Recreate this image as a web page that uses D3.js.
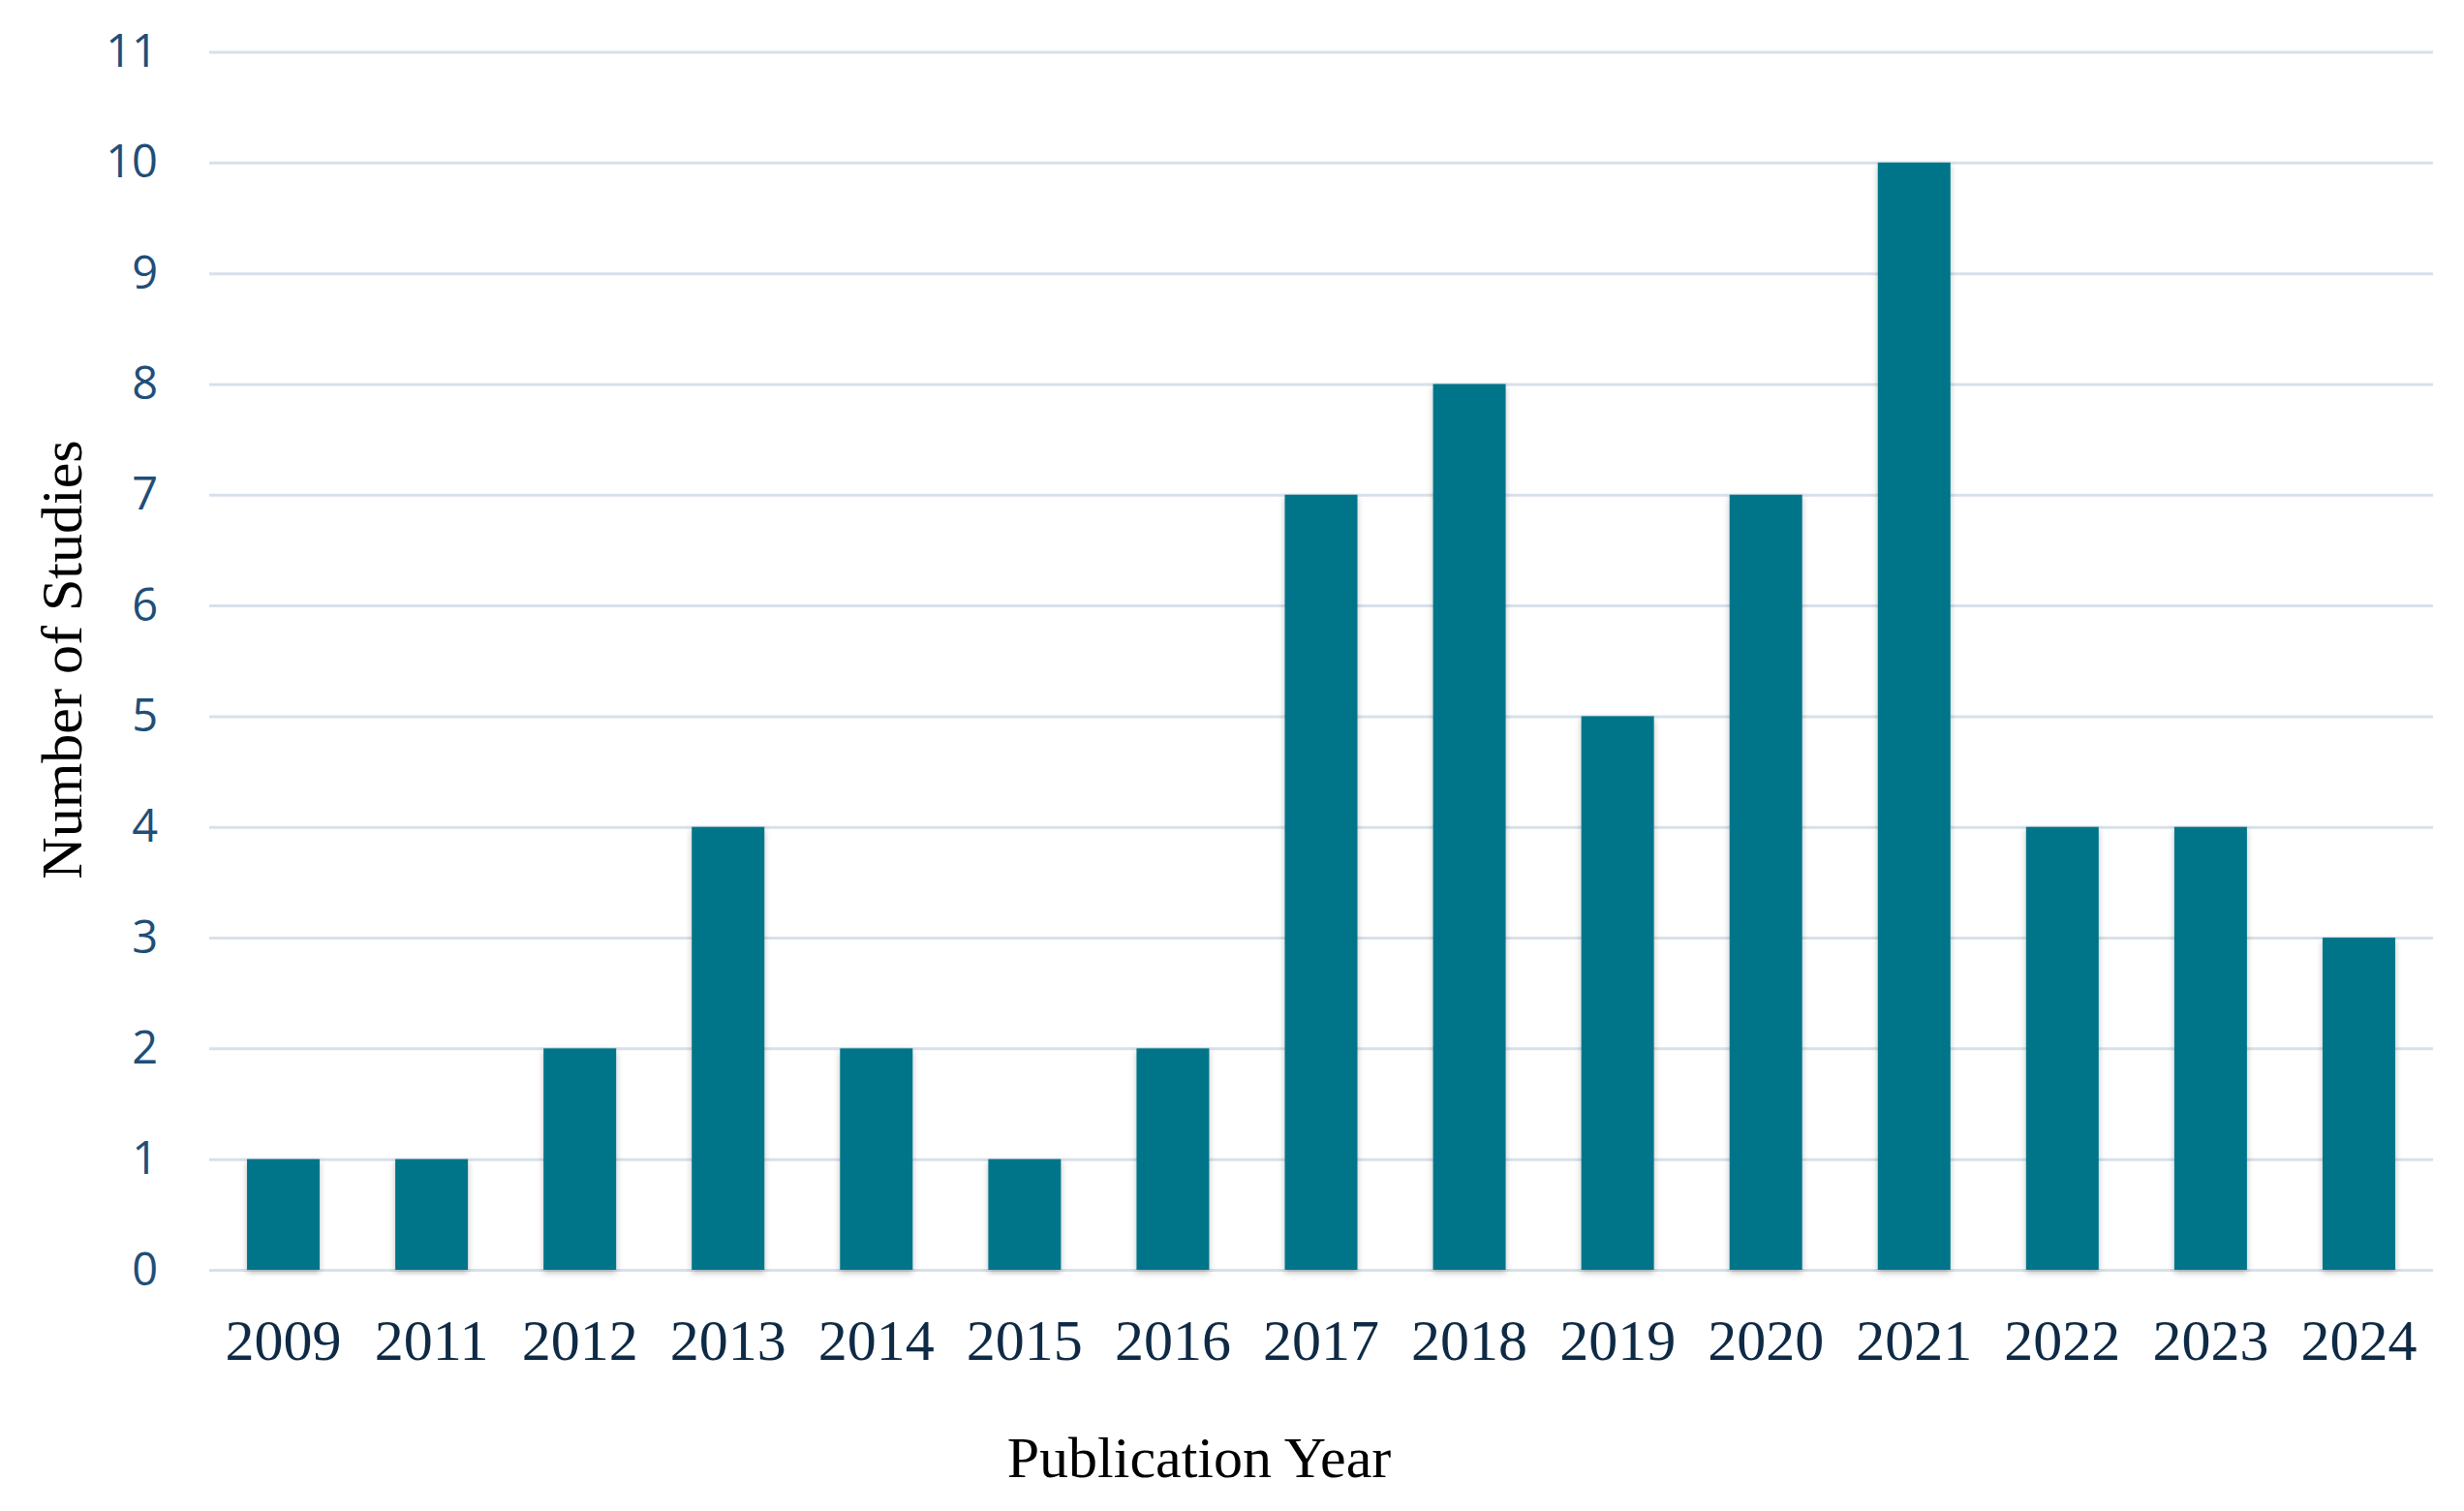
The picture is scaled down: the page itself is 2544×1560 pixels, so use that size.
<!DOCTYPE html>
<html>
<head>
<meta charset="utf-8">
<script src="https://cdn.jsdelivr.net/npm/d3@7"></script>
<style>
  body { margin: 0; background: #fff; }
</style>
</head>
<body>
<svg id="chart"></svg>
<script>
// data
const years = ["2009", "2011", "2012", "2013", "2014", "2015", "2016", "2017",
               "2018", "2019", "2020", "2021", "2022", "2023", "2024"];
const studies = [1, 1, 2, 4, 2, 1, 2, 7, 8, 5, 7, 10, 4, 4, 3];
const yTicks = [0, 1, 2, 3, 4, 5, 6, 7, 8, 9, 10, 11];

const width = 2544, height = 1560;
const margin = {top: 53.5, right: 32, bottom: 249, left: 216};
const innerW = width - margin.left - margin.right;
const innerH = height - margin.top - margin.bottom;

const svg = d3.select("#chart")
    .attr("width", width)
    .attr("height", height);

const defs = svg.append("defs");
const shadow = defs.append("filter")
    .attr("id", "shadow")
    .attr("x", "-20%").attr("y", "-5%")
    .attr("width", "140%").attr("height", "110%");
shadow.append("feDropShadow")
    .attr("dx", 0).attr("dy", 3)
    .attr("stdDeviation", 3)
    .attr("flood-color", "#000")
    .attr("flood-opacity", 0.25);

const chart = svg.append("g")
    .attr("transform", `translate(${margin.left}, ${margin.top})`);

const xscale = d3.scaleBand()
    .domain(years)
    .range([0, innerW])
    .paddingInner(0.51)
    .paddingOuter(0.255);

const yscale = d3.scaleLinear()
    .domain([0, 11])
    .range([innerH, 0]);

// gridlines
const yaxis = d3.axisLeft(yscale)
    .tickValues(yTicks)
    .tickSize(-innerW)
    .tickPadding(53)
    .tickFormat(d3.format("d"));

const yaxis_group = chart.append("g").call(yaxis);
yaxis_group.select(".domain").remove();
yaxis_group.selectAll(".tick line")
    .attr("stroke", "#d8e1ea")
    .attr("stroke-width", 3);
yaxis_group.selectAll(".tick text")
    .attr("font-family", "'Open Sans', sans-serif")
    .attr("font-size", 47)
    .attr("fill", "#1f4e79");

// bars
chart.selectAll("rect.bar")
    .data(years.map((y, i) => ({year: y, value: studies[i]})))
    .join("rect")
    .attr("class", "bar")
    .attr("x", d => xscale(d.year))
    .attr("y", d => yscale(d.value))
    .attr("width", xscale.bandwidth())
    .attr("height", d => innerH - yscale(d.value))
    .attr("fill", "#02758a")
    .attr("filter", "url(#shadow)");

// x axis labels
const xaxis = d3.axisBottom(xscale)
    .tickSize(0)
    .tickPadding(50);

const xaxis_group = chart.append("g")
    .attr("transform", `translate(0, ${innerH})`)
    .call(xaxis);
xaxis_group.select(".domain").remove();
xaxis_group.selectAll(".tick text")
    .attr("font-family", "'Liberation Serif', 'Times New Roman', serif")
    .attr("font-size", 60)
    .attr("fill", "#0e2a45");

// axis titles
const labels = svg.append("g")
    .attr("font-family", "'Liberation Serif', 'Times New Roman', serif")
    .attr("font-size", 60)
    .attr("fill", "#000");

labels.append("text")
    .attr("x", 1238)
    .attr("y", 1525)
    .attr("text-anchor", "middle")
    .text("Publication Year");

labels.append("text")
    .attr("transform", "translate(84, 681) rotate(-90)")
    .attr("text-anchor", "middle")
    .text("Number of Studies");
</script>
</body>
</html>
